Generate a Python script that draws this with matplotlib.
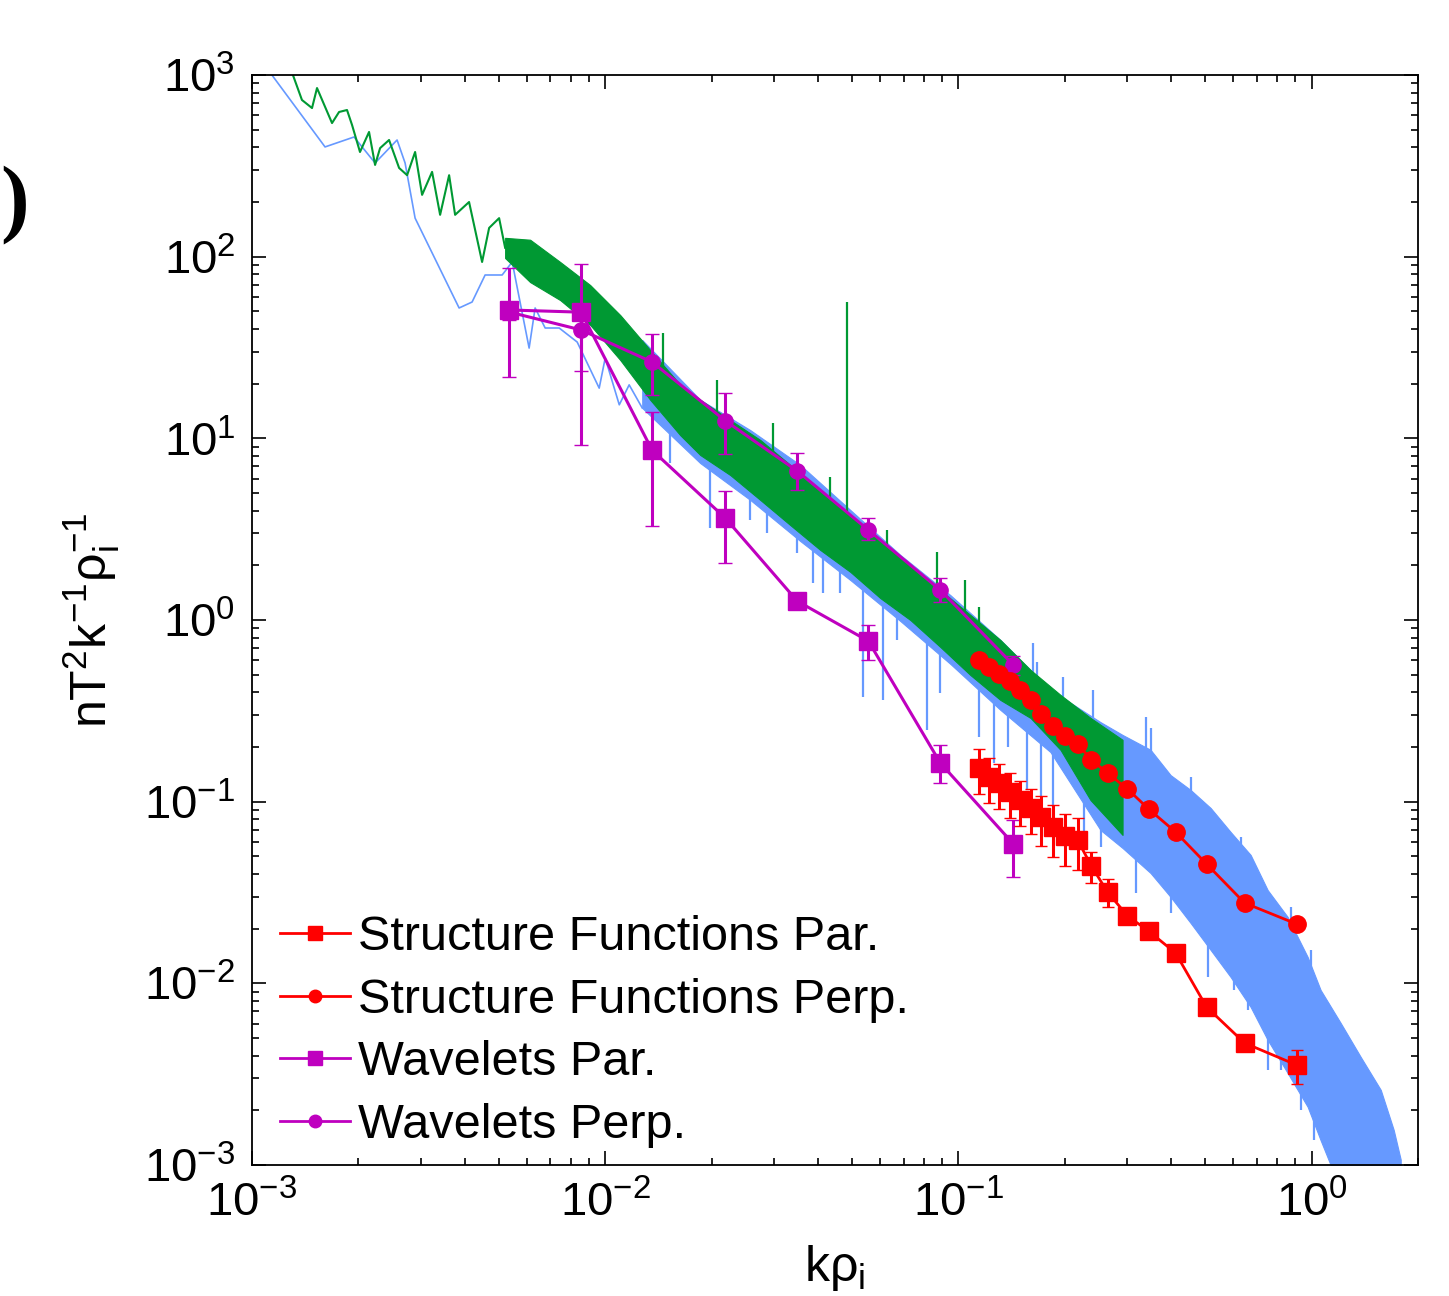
import numpy as np
import matplotlib
matplotlib.use("Agg")
from matplotlib import pyplot as plt
from matplotlib.lines import Line2D

plt.rcParams['font.family'] = ['Liberation Sans', 'DejaVu Sans']
plt.rcParams['mathtext.fontset'] = 'custom'
plt.rcParams['mathtext.rm'] = 'Liberation Sans'
plt.rcParams['mathtext.it'] = 'Liberation Sans'
plt.rcParams['mathtext.bf'] = 'Liberation Sans:bold'
plt.rcParams['mathtext.default'] = 'regular'
plt.rcParams['axes.unicode_minus'] = False

# green spectrum: single line at low k, then a dense band
green_line_k = [0.001306, 0.001385, 0.001479, 0.001528, 0.001685, 0.001764, 0.001858,
                0.001920, 0.002022, 0.002145, 0.002231, 0.002305, 0.002444, 0.002609,
                0.002749, 0.002896, 0.003031, 0.003235, 0.003409, 0.003615, 0.003759,
                0.004117, 0.004482, 0.004692, 0.005008, 0.005208]
green_line_s = [1000, 729, 658, 848, 544, 626, 642, 531, 377, 486, 320, 396, 439, 308,
                281, 377, 219, 293, 170, 281, 170, 200, 93.5, 144, 163, 112]
green_band_k = [0.005208, 0.00613, 0.007457, 0.009068, 0.01103, 0.01341, 0.01632, 0.01858,
                0.0226, 0.02749, 0.03343, 0.04065, 0.04944, 0.06012, 0.07311, 0.08892,
                0.1081, 0.1315, 0.16, 0.1945, 0.2366, 0.2915]
green_band_hi = [127, 124, 93.5, 69.8, 47.7, 30.6, 19.7, 16.3, 12.6, 9.79, 7.13, 5.19, 3.78,
                 2.76, 2.01, 1.46, 1.066, 0.776, 0.531, 0.387, 0.289, 0.219]
green_band_lo = [98.3, 72.5, 57.7, 42.1, 27.0, 16.3, 10.4, 8.10, 6.28, 4.58, 3.33, 2.43,
                 1.84, 1.32, 1.0, 0.710, 0.498, 0.363, 0.289, 0.193, 0.102, 0.0656]
green_up_k = [0.0146, 0.02076, 0.02991, 0.04339, 0.04848, 0.0629, 0.0872, 0.1046, 0.1147]
green_up_s = [38.0, 20.9, 12.1, 6.13, 56.3, 3.13, 2.37, 1.66, 1.18]

# blue spectrum
blue_line_k = [0.001139, 0.00161, 0.001945, 0.002231, 0.002575, 0.002713, 0.002896,
               0.003858, 0.004199, 0.004571, 0.005108, 0.005453, 0.00609, 0.006333,
               0.006761, 0.007408, 0.00833, 0.009616, 0.01, 0.01096, 0.01169, 0.01273]
blue_line_s = [1000, 402, 456, 328, 439, 328, 163, 52.2, 56.3, 79.3, 79.3, 93.5, 31.4,
               52.2, 40.5, 40.5, 33.9, 18.9, 27.7, 15.3, 19.7, 14.7]
blue_band_k = [0.01273, 0.01858, 0.02575, 0.03568, 0.04944, 0.0685, 0.09491, 0.1315,
               0.1822, 0.2525, 0.2915, 0.3498, 0.3987, 0.4542, 0.5176, 0.5896, 0.6718,
               0.7507, 0.855, 0.9743, 1.060, 1.208, 1.377, 1.569, 1.707, 1.787]
blue_band_hi = [34.8, 16.3, 11.1, 7.13, 4.03, 2.28, 1.37, 0.776, 0.412, 0.274, 0.233,
                0.193, 0.140, 0.116, 0.0923, 0.0681, 0.0509, 0.0326, 0.0232, 0.01396,
                0.00919, 0.00605, 0.00393, 0.00259, 0.00156, 0.00107]
blue_band_lo = [14.7, 7.31, 4.58, 2.72, 1.66, 0.987, 0.573, 0.320, 0.1876, 0.0698, 0.0556,
                0.0405, 0.0299, 0.0215, 0.01527, 0.01084, 0.00741, 0.00488, 0.00321,
                0.00209, 0.00137, 0.000729, 0.000566, 0.000439, 0.000386, 0.00034]
blue_dn_k = [0.01528, 0.01984, 0.02575, 0.02876, 0.03498, 0.03883, 0.04146, 0.04632,
             0.05381, 0.06132, 0.06717, 0.0817, 0.08892, 0.1147, 0.1257, 0.1377, 0.1568,
             0.1708, 0.1858, 0.226, 0.2525, 0.3173, 0.3987, 0.5075, 0.6012, 0.6588,
             0.7507, 0.8168, 0.9307, 1.013]
blue_dn_s = [7.31, 3.21, 3.55, 3.01, 2.34, 1.60, 1.41, 1.41, 0.377, 0.363, 0.776, 0.248,
             0.397, 0.227, 0.163, 0.200, 0.116, 0.106, 0.0935, 0.0639, 0.0563, 0.0314,
             0.0244, 0.0108, 0.00919, 0.00713, 0.00333, 0.00333, 0.00201, 0.00137]
blue_up_k = [0.1621, 0.1674, 0.1983, 0.2412, 0.3386, 0.3498, 0.4542, 0.6294, 0.872,
             0.9935, 1.110, 1.265]
blue_up_s = [0.747, 0.59, 0.486, 0.412, 0.292, 0.2545, 0.1367, 0.0639, 0.0263, 0.01527,
             0.00779, 0.00469]

# structure functions
sf_k = [0.1147, 0.1224, 0.1306, 0.1395, 0.1489, 0.160, 0.1718, 0.1858, 0.2009, 0.2174,
        0.238, 0.2643, 0.301, 0.3453, 0.4117, 0.504, 0.6458, 0.9068]
sf_perp = [0.602, 0.551, 0.504, 0.4615, 0.412, 0.3628, 0.3038, 0.261, 0.2298, 0.2077,
           0.1696, 0.1438, 0.1174, 0.0912, 0.0681, 0.0454, 0.0277, 0.0212]
sf_par = [0.1532, 0.1367, 0.1267, 0.1131, 0.1021, 0.0923, 0.0823, 0.0725, 0.0647, 0.0615,
          0.0442, 0.0318, 0.0235, 0.0194, 0.0147, 0.00741, 0.00469, 0.00355]
sf_par_err = [0.0427, 0.0381, 0.0353, 0.0316, 0.0285, 0.0258, 0.0250, 0.0230, 0.0205,
              0.0195, 0.0084, 0.0056, 0.0018, 0.0015, 0.0007, 0.0004, 0.0002, 0.00077]

# wavelets
wv_k = [0.005346, 0.008551, 0.01358, 0.02188, 0.03498, 0.05559, 0.08892, 0.1431]
wv_par = [50.9, 49.5, 8.6, 3.64, 1.27, 0.766, 0.163, 0.0585]
wv_par_lo = [21.8, 9.19, 3.29, 2.06, 1.21, 0.60, 0.127, 0.0385]
wv_par_hi = [86.6, 91.0, 14.0, 5.13, 1.33, 0.939, 0.205, 0.0793]
wv_perp = [49.6, 39.5, 26.3, 12.5, 6.61, 3.13, 1.46, 0.565]
wv_perp_lo = [45.0, 23.5, 17.3, 8.2, 5.2, 2.76, 1.26, 0.50]
wv_perp_hi = [55.0, 55.0, 37.5, 17.8, 8.3, 3.64, 1.70, 0.63]

BLUE = '#6699ff'
GREEN = '#009933'
MAG = '#bf00bf'
RED = '#ff0000'


def log_interp(x, xp, fp):
    return 10 ** np.interp(np.log10(x), np.log10(xp), np.log10(fp))


def main():
    fig = plt.figure(figsize=(14.49, 12.96), dpi=100)
    ax = fig.add_axes([0.1739, 0.1011, 0.8047, 0.8410])
    ax.set_xscale('log')
    ax.set_yscale('log')

    # blue spectrum
    ax.plot(blue_line_k, blue_line_s, color=BLUE, lw=1.2, zorder=1)
    ax.fill_between(blue_band_k, blue_band_lo, blue_band_hi, color=BLUE, lw=0.8, zorder=1)
    dn_top = log_interp(blue_dn_k, blue_band_k, blue_band_lo)
    ax.vlines(blue_dn_k, blue_dn_s, dn_top * 1.2, color=BLUE, lw=1.6, zorder=1)
    up_bot = log_interp(blue_up_k, blue_band_k, blue_band_hi)
    ax.vlines(blue_up_k, up_bot * 0.8, blue_up_s, color=BLUE, lw=1.6, zorder=1)

    # green spectrum
    ax.plot(green_line_k, green_line_s, color=GREEN, lw=1.5, zorder=2)
    ax.fill_between(green_band_k, green_band_lo, green_band_hi, color=GREEN, lw=0.8, zorder=2)
    gu_bot = log_interp(green_up_k, green_band_k, green_band_hi)
    ax.vlines(green_up_k, gu_bot * 0.8, green_up_s, color=GREEN, lw=1.6, zorder=2)

    # wavelets
    wp = np.array(wv_par)
    ax.errorbar(wv_k, wp, yerr=[wp - np.array(wv_par_lo), np.array(wv_par_hi) - wp],
                fmt='-s', color=MAG, ms=13.5, mew=1, lw=2.2, elinewidth=2.2,
                capsize=5, capthick=2.2, zorder=3)
    wq = np.array(wv_perp)
    ax.errorbar(wv_k, wq, yerr=[wq - np.array(wv_perp_lo), np.array(wv_perp_hi) - wq],
                fmt='-o', color=MAG, ms=11, mew=1, lw=2.2, elinewidth=2.2,
                capsize=5, capthick=2.2, zorder=3)

    # structure functions
    ax.errorbar(sf_k, sf_par, yerr=sf_par_err, fmt='-s', color=RED, ms=13.5, mew=1,
                lw=2, elinewidth=2.2, capsize=4, capthick=2.2, zorder=4)
    ax.plot(sf_k, sf_perp, '-o', color=RED, ms=12.5, mew=1, lw=2, zorder=4)

    ax.set_xlim(1e-3, 2)
    ax.set_ylim(1e-3, 1e3)
    ax.set_xticks([1e-3, 1e-2, 1e-1, 1e0])
    ax.set_yticks([1e-3, 1e-2, 1e-1, 1e0, 1e1, 1e2, 1e3])
    ax.tick_params(which='both', direction='in', top=True, right=True, labelsize=34,
                   width=1.2, pad=12)
    ax.tick_params(which='major', length=10)
    ax.tick_params(which='minor', length=5)
    for s in ax.spines.values():
        s.set_linewidth(1.3)

    ax.set_xlabel(r'k$\rho_i$', fontsize=36, labelpad=12)
    ax.set_ylabel(r'nT$^2$k$^{-1}$$\rho_i^{-1}$', fontsize=36, labelpad=16)

    handles = [
        Line2D([], [], color=RED, marker='s', ms=10, lw=2),
        Line2D([], [], color=RED, marker='o', ms=9, lw=2),
        Line2D([], [], color=MAG, marker='s', ms=10, lw=2),
        Line2D([], [], color=MAG, marker='o', ms=9, lw=2),
    ]
    labels = ['Structure Functions Par.', 'Structure Functions Perp.',
              'Wavelets Par.', 'Wavelets Perp.']
    ax.legend(handles, labels, loc='lower left', bbox_to_anchor=(0.024, 0.016),
              frameon=False, fontsize=35, handlelength=1.45, handletextpad=0.15,
              labelspacing=0.36, borderpad=0, borderaxespad=0)

    # only the closing bracket of the panel tag shows at the left edge
    fig.text(0.0, 1 - 205 / 1296, ')', ha='left', va='center', fontsize=62,
             family='Liberation Serif', fontweight='bold')

    fig.savefig('out.png', dpi=100)


if __name__ == '__main__':
    main()
